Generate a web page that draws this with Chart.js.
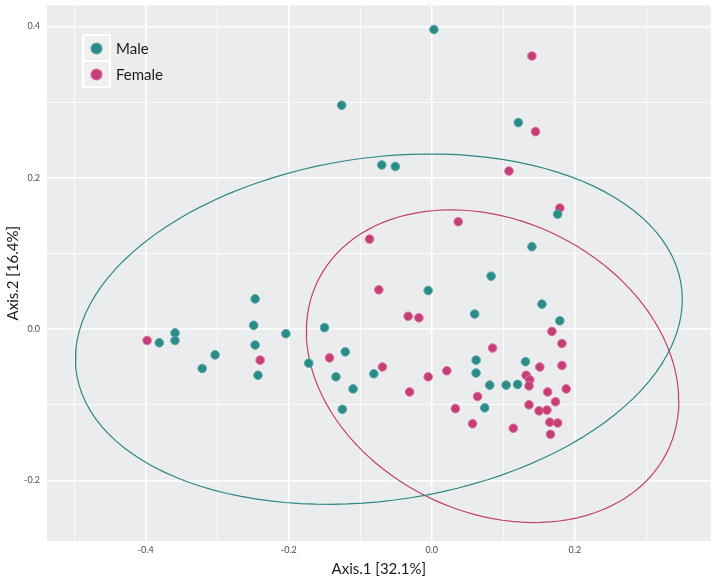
<!DOCTYPE html>
<html>
<head>
<meta charset="utf-8">
<script src="https://cdn.jsdelivr.net/npm/chart.js@4"></script>
<style>
  body { margin: 0; background: #ffffff; }
  #wrap { width: 716px; height: 578px; }
</style>
</head>
<body>
<div id="wrap"><canvas id="chart" width="716" height="578"></canvas></div>
<script>
// values
var maleX = [0.003, -0.126, 0.121, -0.070, -0.051, 0.176, 0.140, 0.083, -0.005, -0.247,
             0.060, 0.154, 0.179, -0.150, -0.249, -0.359, -0.359, -0.381, -0.303, -0.321,
             -0.247, -0.243, -0.204, -0.172, -0.121, -0.134, -0.110, -0.125, -0.081, 0.062,
             0.062, 0.131, 0.081, 0.104, 0.120, 0.074];
var maleY = [0.396, 0.296, 0.273, 0.217, 0.215, 0.152, 0.109, 0.070, 0.051, 0.040,
             0.020, 0.033, 0.011, 0.002, 0.005, -0.005, -0.015, -0.018, -0.034, -0.052,
             -0.021, -0.061, -0.006, -0.045, -0.030, -0.063, -0.079, -0.106, -0.059, -0.041,
             -0.058, -0.043, -0.074, -0.074, -0.073, -0.104];
var femaleX = [0.140, 0.145, 0.108, 0.179, 0.037, -0.087, -0.074, -0.033, -0.018, 0.168,
               0.182, 0.085, -0.398, -0.240, -0.143, -0.069, -0.031, -0.005, 0.021, 0.151,
               0.182, 0.132, 0.137, 0.136, 0.188, 0.162, 0.064, 0.173, 0.033, 0.136,
               0.150, 0.161, 0.057, 0.114, 0.165, 0.176, 0.166];
var femaleY = [0.361, 0.261, 0.209, 0.160, 0.142, 0.119, 0.052, 0.017, 0.015, -0.003,
               -0.019, -0.025, -0.015, -0.041, -0.038, -0.050, -0.083, -0.063, -0.055, -0.050,
               -0.048, -0.061, -0.067, -0.075, -0.079, -0.083, -0.089, -0.096, -0.105, -0.100,
               -0.108, -0.107, -0.125, -0.131, -0.123, -0.124, -0.139];

// confidence ellipses: centre and covariance [sxx, sxy, syy]
var maleEllipseCenter = [-0.074, 0.000];
var maleEllipseCov = [0.180, 0.0166, 0.0536];
var femaleEllipseCenter = [0.085, -0.049];
var femaleEllipseCov = [0.0678, -0.0120, 0.0427];

var xTicks = [-0.5, -0.4, -0.3, -0.2, -0.1, 0.0, 0.1, 0.2, 0.3];
var yTicks = [-0.2, -0.1, 0.0, 0.1, 0.2, 0.3, 0.4];
var xTickLabels = ['-0.4', '-0.2', '0.0', '0.2'];
var yTickLabels = ['-0.2', '0.0', '0.2', '0.4'];

var teal = '#2a8b89';
var pink = '#c63e78';

function toPoints(xs, ys) {
    return xs.map(function(x, i) { return {x: x, y: ys[i]}; });
}

function ellipse(center, cov) {
    var l11 = Math.sqrt(cov[0]);
    var l21 = cov[1] / l11;
    var l22 = Math.sqrt(cov[2] - l21 * l21);
    var pts = [];
    for (var i = 0; i <= 120; i++) {
        var t = i / 120 * 2 * Math.PI;
        pts.push({x: center[0] + l11 * Math.cos(t),
                  y: center[1] + l21 * Math.cos(t) + l22 * Math.sin(t)});
    }
    return pts;
}

function fmt(v) {
    return (Math.round(v * 10) / 10).toFixed(1);
}

var panel = {
    id: 'panel',
    beforeDraw: function(chart) {
        var a = chart.chartArea, c = chart.ctx;
        c.save();
        c.fillStyle = '#ebeced';
        c.fillRect(a.left, a.top, a.right - a.left, a.bottom - a.top);
        c.restore();
    },
    afterDraw: function(chart) {
        var c = chart.ctx;
        var items = [['Male', teal, '#5aa9a6'], ['Female', pink, '#dc6f9c']];
        c.save();
        c.fillStyle = '#ffffff';
        c.fillRect(82, 34, 29, 54);
        items.forEach(function(it, i) {
            var y = 36 + i * 26;
            c.fillStyle = '#f0f0f0';
            c.fillRect(84, y, 25, 24);
            c.beginPath();
            c.arc(96.5, y + 12.5, 5.5, 0, 2 * Math.PI);
            c.fillStyle = it[1];
            c.fill();
            c.lineWidth = 1.2;
            c.strokeStyle = it[2];
            c.stroke();
            c.fillStyle = '#1a1a1a';
            c.font = '15px Lato';
            c.textBaseline = 'middle';
            c.fillText(it[0], 116, y + 13);
        });
        c.restore();
    }
};

function grid(ctx) {
    var v = ctx.tick ? ctx.tick.value : 0;
    return Math.abs(Math.round(v * 10)) % 2 === 0 ? 1.6 : 0.8;
}

new Chart(document.getElementById('chart'), {
    type: 'scatter',
    data: {
        datasets: [
            {label: 'Male', data: toPoints(maleX, maleY), backgroundColor: teal,
             borderColor: '#5aa9a6', borderWidth: 1, pointRadius: 4.3},
            {label: 'Female', data: toPoints(femaleX, femaleY), backgroundColor: pink,
             borderColor: '#dc6f9c', borderWidth: 1, pointRadius: 4.3},
            {label: 'Male ellipse', data: ellipse(maleEllipseCenter, maleEllipseCov),
             showLine: true, pointRadius: 0, borderColor: '#2e8784', borderWidth: 1.2, fill: false},
            {label: 'Female ellipse', data: ellipse(femaleEllipseCenter, femaleEllipseCov),
             showLine: true, pointRadius: 0, borderColor: '#c2416f', borderWidth: 1.2, fill: false}
        ]
    },
    options: {
        responsive: false,
        animation: false,
        layout: {padding: {top: 3, right: 3, left: 0, bottom: 0}},
        plugins: {legend: {display: false}, tooltip: {enabled: false}},
        scales: {
            x: {
                type: 'linear', min: -0.538, max: 0.390,
                afterBuildTicks: function(s) { s.ticks = xTicks.map(function(v) { return {value: v}; }); },
                afterFit: function(s) { s.height = 37; s.paddingLeft = 0; s.paddingRight = 0; },
                grid: {color: '#ffffff', lineWidth: grid, drawTicks: false},
                border: {display: false},
                ticks: {
                    padding: 4, color: '#4d4d4d', font: {size: 9, family: 'Lato'}, maxRotation: 0,
                    callback: function(v) { return xTickLabels.indexOf(fmt(v)) >= 0 ? fmt(v) : ''; }
                },
                title: {display: true, text: 'Axis.1 [32.1%]', color: '#1a1a1a',
                        font: {size: 15, family: 'Lato'}, padding: {top: 1, bottom: 0}}
            },
            y: {
                type: 'linear', min: -0.280, max: 0.428,
                afterBuildTicks: function(s) { s.ticks = yTicks.map(function(v) { return {value: v}; }); },
                afterFit: function(s) { s.width = 47; s.paddingTop = 0; s.paddingBottom = 0; },
                grid: {color: '#ffffff', lineWidth: grid, drawTicks: false},
                border: {display: false},
                ticks: {
                    padding: 7, color: '#4d4d4d', font: {size: 9, family: 'Lato'},
                    callback: function(v) { return yTickLabels.indexOf(fmt(v)) >= 0 ? fmt(v) : ''; }
                },
                title: {display: true, text: 'Axis.2 [16.4%]', color: '#1a1a1a',
                        font: {size: 15, family: 'Lato'}, padding: {top: 4, bottom: 0}}
            }
        }
    },
    plugins: [panel]
});
</script>
</body>
</html>
